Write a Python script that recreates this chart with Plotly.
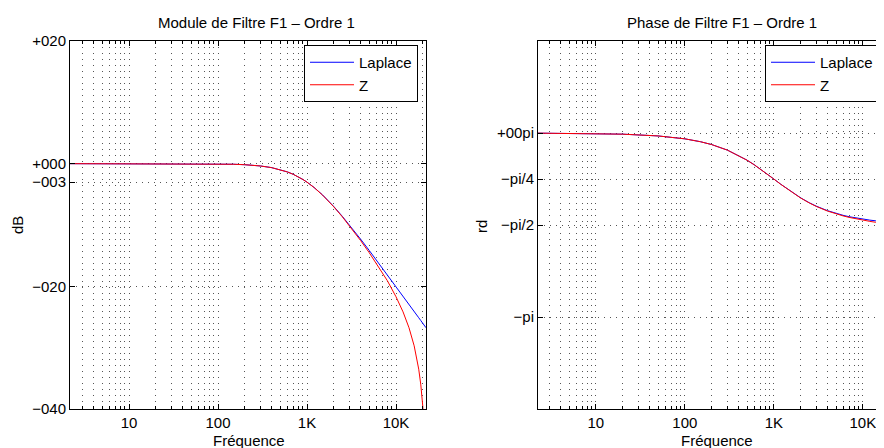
import math
import plotly.graph_objects as go

# ---------------- data ----------------
freq = [2.17, 5, 10, 20, 50, 100, 150, 200, 300, 400, 500, 600, 700, 800, 900,
        1000, 1200, 1500, 1800, 2000, 2500, 3000, 4000, 5000, 6000, 7000, 8000,
        10000, 12000, 14000, 16000, 18000, 19000, 20000, 20500, 21000, 21730]

mod_laplace = [0.0, -0.0001, -0.0004, -0.0017, -0.0109, -0.0432, -0.0966, -0.1703,
               -0.3743, -0.6446, -0.9691, -1.3354, -1.7319, -2.1484, -2.5768,
               -3.0103, -3.8739, -5.1188, -6.274, -6.9897, -8.6034, -10.0, -12.3045,
               -14.1497, -15.682, -16.9897, -18.1291, -20.0432, -21.6137, -22.9447,
               -24.0993, -25.1188, -25.587, -26.0314, -26.245, -26.454, -26.750]

mod_z = [0.0, -0.0001, -0.0004, -0.0017, -0.0109, -0.0432, -0.0967, -0.1705,
         -0.3748, -0.6454, -0.9703, -1.3372, -1.7345, -2.152, -2.582,
         -3.018, -3.887, -5.142, -6.310, -7.037, -8.683, -10.120, -12.530,
         -14.512, -16.209, -17.714, -19.085, -21.700, -24.172, -26.752,
         -29.699, -33.505, -36.07, -39.60, -42.07, -45.46, -55.78]

phase_laplace = [-0.0022, -0.0050, -0.0100, -0.0200, -0.0500, -0.0997, -0.1489, -0.1974,
                 -0.2915, -0.3805, -0.4636, -0.5404, -0.6107, -0.6747, -0.7328,
                 -0.7854, -0.8761, -0.9828, -1.0637, -1.1071, -1.1903, -1.2490, -1.3258,
                 -1.3734, -1.4056, -1.4289, -1.4464, -1.4711, -1.4877, -1.4995,
                 -1.5084, -1.5153, -1.5182, -1.5208, -1.5221, -1.5232, -1.5248]

phase_z = [-0.0022, -0.0050, -0.0100, -0.0200, -0.0500, -0.0997, -0.1490, -0.1975,
           -0.2918, -0.3810, -0.4642, -0.5412, -0.6117, -0.6752, -0.7334,
           -0.7863, -0.8773, -0.9846, -1.0661, -1.1097, -1.1940, -1.2537, -1.3322,
           -1.3816, -1.4155, -1.4403, -1.4595, -1.4884, -1.5089, -1.5248,
           -1.5380, -1.5497, -1.5551, -1.5603, -1.5629, -1.5655, -1.5692]

x_tickvals = [10, 100, 1000, 10000]
x_ticktext = ["10", "100", "1K", "10K"]
mod_tickvals = [20, 0, -3, -20, -40]
mod_ticktext = ["+020", "+000", "\u2212003", "\u2212020", "\u2212040"]
phase_tickvals = [0, -math.pi / 4, -math.pi / 2, -math.pi]
phase_ticktext = ["+00pi", "\u2212pi/4", "\u2212pi/2", "\u2212pi"]

series_names = ["Laplace", "Z"]
series_colors = ["#0000ff", "#ff0000"]

# ---------------- layout helpers ----------------
OFF = 8                      # page body margin
W, H = 884 - OFF, 448 - OFF
TOP, BOT = 41, 409           # plot area in screen pixels
FONT = "Liberation Sans, Arial, sans-serif"
FS = 15


def px(x):
    return (x - OFF) / W


def py(y):
    return (BOT - y) / (BOT - TOP)


fig = go.Figure()

for name, color, ys in zip(series_names, series_colors, [mod_laplace, mod_z]):
    fig.add_trace(go.Scatter(x=freq, y=ys, mode="lines", name=name,
                             line=dict(color=color, width=1),
                             xaxis="x", yaxis="y", legend="legend"))
for name, color, ys in zip(series_names, series_colors, [phase_laplace, phase_z]):
    fig.add_trace(go.Scatter(x=freq, y=ys, mode="lines", name=name,
                             line=dict(color=color, width=1),
                             xaxis="x2", yaxis="y2", legend="legend2"))

GRIDC = "#555555"
GDASH = "1px,5px"
grid = dict(showgrid=True, gridcolor=GRIDC, griddash=GDASH, gridwidth=1)
common_x = dict(type="log", tickvals=x_tickvals, ticktext=x_ticktext,
                ticks="inside", ticklen=5, tickcolor="black",
                showline=True, linecolor="black", linewidth=1,
                zeroline=False, automargin=False,
                tickfont=dict(family=FONT, size=FS, color="black"),
                minor=dict(dtick="D1", showgrid=True, gridcolor=GRIDC,
                           griddash=GDASH, gridwidth=1, ticks="inside",
                           ticklen=3, tickcolor="black"),
                **grid)
common_y = dict(ticks="inside", ticklen=5, tickcolor="black",
                showline=True, linecolor="black", linewidth=1,
                zeroline=False, automargin=False,
                tickfont=dict(family=FONT, size=FS, color="black"),
                **grid)

legend_common = dict(bgcolor="white", bordercolor="black", borderwidth=1,
                     font=dict(family=FONT, size=FS, color="black"),
                     itemwidth=44, tracegroupgap=0,
                     y=py(45), yanchor="top", xanchor="right")

fig.update_layout(
    width=W, height=H,
    margin=dict(l=0, r=0, t=TOP - OFF, b=H - (BOT - OFF)),
    paper_bgcolor="white", plot_bgcolor="white",
    font=dict(family=FONT, size=FS, color="black"),
    xaxis=dict(domain=[px(70), px(426)], anchor="y",
               range=[0.337, 4.337], mirror="ticks", **common_x),
    yaxis=dict(domain=[0, 1], anchor="x", range=[-40, 20],
               tickvals=mod_tickvals, ticktext=mod_ticktext,
               mirror="ticks", **common_y),
    xaxis2=dict(domain=[px(538), 1], anchor="y2",
                range=[0.35, 4.238], mirror="ticks", **common_x),
    yaxis2=dict(domain=[0, 1], anchor="x2",
                range=[-1.5 * math.pi, 0.5 * math.pi],
                tickvals=phase_tickvals, ticktext=phase_ticktext,
                mirror=False, **common_y),
    legend=dict(x=px(418), **legend_common),
    legend2=dict(x=px(879), **legend_common),
    showlegend=True,
)

annots = [
    dict(text="Module de Filtre F1 \u2013 Ordre 1", x=px(256), y=py(23)),
    dict(text="Phase de Filtre F1 \u2013 Ordre 1", x=px(722), y=py(23)),
    dict(text="Fr\u00e9quence", x=px(249), y=py(440)),
    dict(text="Fr\u00e9quence", x=px(717), y=py(440)),
    dict(text="dB", x=px(17), y=py(225), textangle=-90),
    dict(text="rd", x=px(481), y=py(227), textangle=-90),
]
for a in annots:
    fig.add_annotation(xref="paper", yref="paper", showarrow=False,
                       xanchor="center", yanchor="middle",
                       font=dict(family=FONT, size=FS, color="black"), **a)

fig.write_html("out.html")
